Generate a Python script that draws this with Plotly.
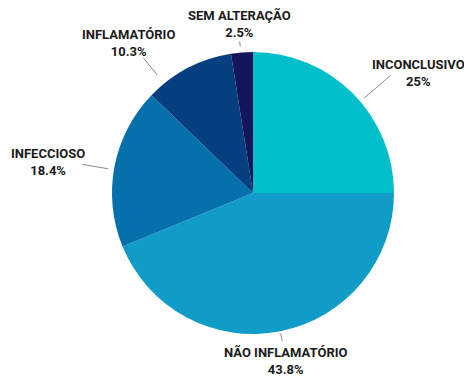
import math
import plotly.graph_objects as go

# ---- data ----
labels = ["INCONCLUSIVO", "NÃO INFLAMATÓRIO", "INFECCIOSO", "INFLAMATÓRIO", "SEM ALTERAÇÃO"]
values = [25, 43.8, 18.4, 10.3, 2.5]
pct_text = ["25%", "43.8%", "18.4%", "10.3%", "2.5%"]

# ---- style ----
colors = ["#00bfcb", "#0f9cc6", "#0670ad", "#063f80", "#11175a"]
W, H = 464, 379
cx, cy, R = 253, 193, 141  # pie centre / radius in pixels
# leader line styling: angle shift (deg), inner radius, outer radius, text dx, dy
line_angle_shift = [4.5, 0, -1.3, -11.5, -0.5]
line_r_in = [146, 143, 147, 152, 147]
line_r_out = [181, 151, 173, 174, 152]
text_dx = [28, 4, -34, -15, 0]
text_dy = [-2, 20, -2, -15, -18]

fig = go.Figure(go.Pie(
    labels=labels, values=values, sort=False, direction="clockwise", rotation=0,
    marker=dict(colors=colors, line=dict(width=0)),
    textinfo="none", hoverinfo="label+percent", showlegend=False,
    domain=dict(x=[(cx - R) / W, (cx + R) / W],
                y=[((H - cy) - R) / H, ((H - cy) + R) / H]),
))

def px2paper(x, y):
    return x / W, 1 - y / H

total = sum(values)
cum = 0
shapes, annos = [], []
for i, v in enumerate(values):
    mid = (cum + v / 2) / total * 360
    cum += v
    a = math.radians(mid + line_angle_shift[i])
    x0, y0 = cx + line_r_in[i] * math.sin(a), cy - line_r_in[i] * math.cos(a)
    x1, y1 = cx + line_r_out[i] * math.sin(a), cy - line_r_out[i] * math.cos(a)
    p0, p1 = px2paper(x0, y0), px2paper(x1, y1)
    shapes.append(dict(type="line", xref="paper", yref="paper",
                       x0=p0[0], y0=p0[1], x1=p1[0], y1=p1[1],
                       line=dict(color="#8a8a8a", width=1)))
    tx, ty = px2paper(x1 + text_dx[i], y1 + text_dy[i])
    annos.append(dict(xref="paper", yref="paper", x=tx, y=ty,
                      xanchor="center", yanchor="middle", showarrow=False,
                      text=f"<b>{labels[i]}<br>{pct_text[i]}</b>",
                      font=dict(family="Roboto", size=13, color="#1a1a1a")))

fig.update_layout(width=W, height=H, margin=dict(l=0, r=0, t=0, b=0),
                  paper_bgcolor="white", plot_bgcolor="white",
                  shapes=shapes, annotations=annos)
fig.write_html("out.html")
